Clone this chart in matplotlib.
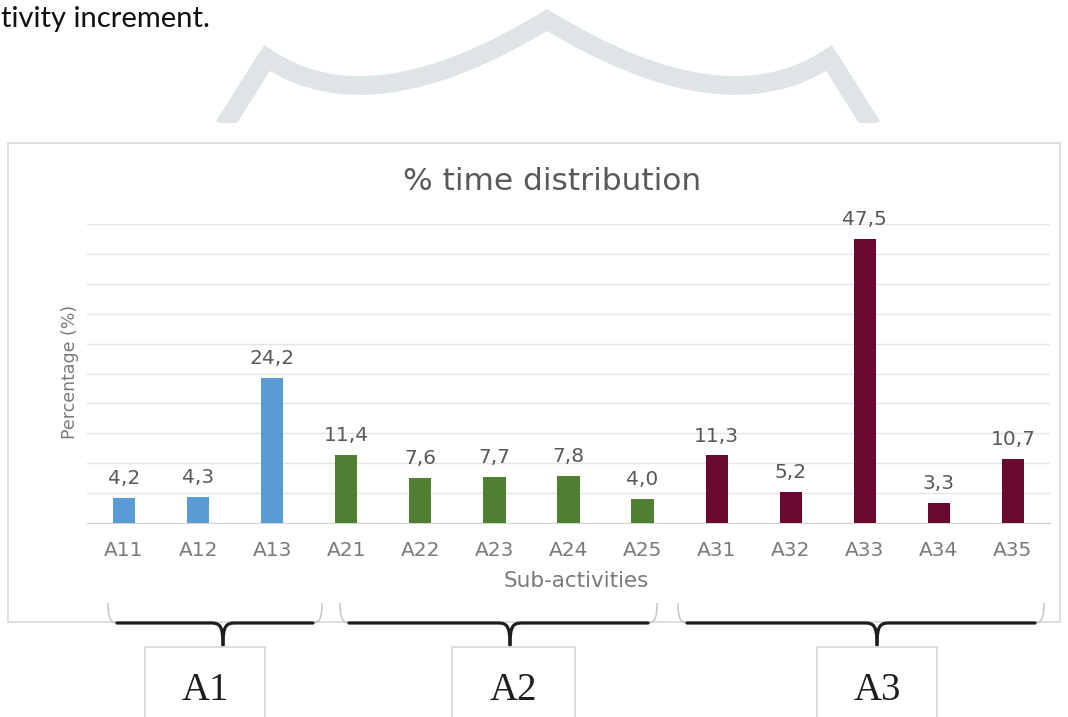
import numpy as np
import matplotlib
matplotlib.use("Agg")
import matplotlib.pyplot as plt
from matplotlib.path import Path
from matplotlib.patches import PathPatch, Rectangle

# sub-activity shares (%) grouped by main activity
labels = ["A11", "A12", "A13", "A21", "A22", "A23", "A24", "A25",
          "A31", "A32", "A33", "A34", "A35"]
values = [4.2, 4.3, 24.2, 11.4, 7.6, 7.7, 7.8, 4.0, 11.3, 5.2, 47.5, 3.3, 10.7]
groups = ["A1", "A1", "A1", "A2", "A2", "A2", "A2", "A2",
          "A3", "A3", "A3", "A3", "A3"]
group_names = ["A1", "A2", "A3"]
group_colors = {"A1": "#5b9bd5", "A2": "#507e32", "A3": "#6a0a30"}

W, H = 1068, 717


def fmt(v):
    return "{:.1f}".format(v).replace(".", ",")


def draw_brace(ax, x0, x1, xm, y):
    # faint curled ends
    for xe, s in ((x0, 1), (x1, -1)):
        verts = [(xe - 2 * s, y - 20), (xe - 2 * s, y - 5), (xe, y), (xe + 8 * s, y)]
        codes = [Path.MOVETO, Path.CURVE4, Path.CURVE4, Path.CURVE4]
        ax.add_patch(PathPatch(Path(verts, codes), fill=False, ec="#c4c4c4", lw=1.1))
    # dark body with the centre tip
    for xe, s in ((x0, 1), (x1, -1)):
        verts = [(xe + 7 * s, y), (xm - 12 * s, y),
                 (xm - 3 * s, y), (xm, y + 3), (xm, y + 22)]
        codes = [Path.MOVETO, Path.LINETO, Path.CURVE4, Path.CURVE4, Path.CURVE4]
        ax.add_patch(PathPatch(Path(verts, codes), fill=False, ec="#1e1e1e",
                               lw=2.3, capstyle="round"))


fig = plt.figure(figsize=(W / 100, H / 100), dpi=100)

# page layer in pixel coordinates
deco = fig.add_axes([0, 0, 1, 1], zorder=0)
deco.set_xlim(0, W)
deco.set_ylim(H, 0)
deco.axis("off")

deco.text(1, 27, "tivity increment.", fontsize=21, family="Lato",
          color="#111111", ha="left", va="baseline")

# watermark band behind the chart
wm_verts = [(224, 126), (267, 58),
            (370, 128), (547, 20),
            (724, 128), (829, 58),
            (872, 126)]
wm_codes = [Path.MOVETO, Path.LINETO, Path.CURVE3, Path.CURVE3,
            Path.CURVE3, Path.CURVE3, Path.LINETO]
wm = PathPatch(Path(wm_verts, wm_codes), fill=False, ec="#dfe4e7", lw=13.5,
               joinstyle="miter", capstyle="butt")
deco.add_patch(wm)
wm.set_clip_path(Rectangle((0, 0), W, 123, transform=deco.transData))

# chart frame
deco.add_patch(Rectangle((8, 143), 1052, 479, fill=False, ec="#d9d9d9", lw=1.2))

deco.text(552, 181, "% time distribution", fontsize=22.5, color="#595959",
          ha="center", va="center")
deco.text(70, 372, "Percentage (%)", fontsize=12.5, color="#7a7a7a",
          rotation=90, ha="center", va="center")
deco.text(576, 581, "Sub-activities", fontsize=15.5, color="#7a7a7a",
          ha="center", va="center")

# braces and group boxes
braces = [(110, 320, 223), (342, 655, 510), (680, 1042, 877)]
boxes = [(145, 265), (452, 575), (817, 937)]
for (x0, x1, xm), (b0, b1), name in zip(braces, boxes, group_names):
    draw_brace(deco, x0, x1, xm, 623)
    deco.add_patch(Rectangle((b0, 647), b1 - b0, 90, fill=False,
                             ec="#d6d6d6", lw=1.2))
    deco.text((b0 + b1) / 2, 691, name, fontsize=28, family="Liberation Serif",
              color="#1e1e1e", ha="center", va="center")

# bar chart
ax = fig.add_axes([87 / W, 1 - 523 / H, 963 / W, 299 / H], zorder=1)
ax.patch.set_alpha(0)
x = np.arange(len(labels))
bar_colors = [group_colors[g] for g in groups]
ax.bar(x, values, width=0.3, color=bar_colors, zorder=3)
for xi, v in zip(x, values):
    ax.annotate(fmt(v), (xi, v), xytext=(0, 10), textcoords="offset points",
                ha="center", va="baseline", fontsize=14.5, color="#595959")

ax.set_xlim(-0.5, len(labels) - 0.5)
ax.set_ylim(0, 50)
ax.set_yticks(np.arange(0, 55, 5))
ax.set_yticklabels([])
ax.yaxis.grid(True, color="#e4e4e4", lw=1)
ax.set_axisbelow(True)
ax.set_xticks(x)
ax.set_xticklabels(labels, fontsize=14.5, color="#7a7a7a")
ax.tick_params(axis="both", length=0)
ax.tick_params(axis="x", pad=13)
for side in ("top", "right", "left"):
    ax.spines[side].set_visible(False)
ax.spines["bottom"].set_color("#d4d4d4")

fig.savefig("out.png", dpi=100, facecolor="white")
